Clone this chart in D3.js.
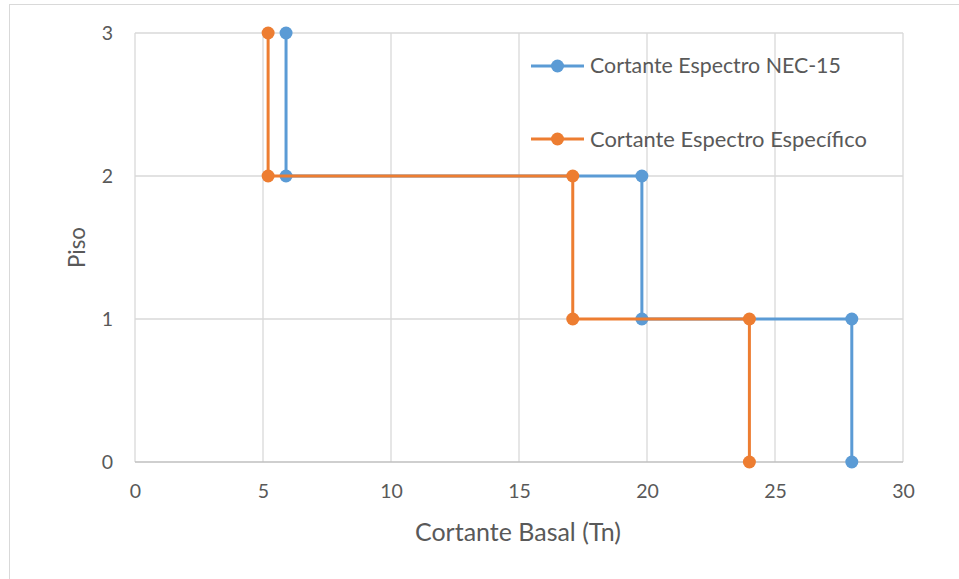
<!DOCTYPE html>
<html>
<head>
<meta charset="utf-8">
<script src="https://cdn.jsdelivr.net/npm/d3@7"></script>
<style>
  html, body { margin: 0; padding: 0; background: #fff; }
  svg { display: block; }
  text { font-family: Lato, "Open Sans", sans-serif; fill: #595959; }
</style>
</head>
<body>
<svg id="chart" width="959" height="579"></svg>
<script>
// Story shear, step profile: each point is (shear, floor level)
const seriesNames = ["Cortante Espectro NEC-15", "Cortante Espectro Específico"];
const colors = ["#5B9BD5", "#ED7D31"];
const pisoLevels = [3, 2, 2, 1, 1, 0];
const cortanteNEC = [5.9, 5.9, 19.8, 19.8, 28.0, 28.0];
const cortanteEspecifico = [5.2, 5.2, 17.1, 17.1, 24.0, 24.0];
const xTicks = [0, 5, 10, 15, 20, 25, 30];
const yTicks = [0, 1, 2, 3];
const xTitle = "Cortante Basal (Tn)";
const yTitle = "Piso";

const svg = d3.select("#chart");
const plot = { left: 135, right: 903, top: 33, bottom: 462 };

// scale a label's font so it spans the given width
function fitWidth(sel, width) {
  const node = sel.node();
  const base = parseFloat(sel.style("font-size"));
  const w = node.getComputedTextLength();
  sel.style("font-size", (base * width / w).toFixed(2) + "px");
  return sel;
}

// outer chart frame
svg.append("rect")
  .attr("x", 9.5).attr("y", 4.5)
  .attr("width", 1000).attr("height", 1000)
  .attr("fill", "none").attr("stroke", "#D9D9D9").attr("stroke-width", 1);

const x = d3.scaleLinear().domain([0, 30]).range([plot.left, plot.right]);
const y = d3.scaleLinear().domain([0, 3]).range([plot.bottom, plot.top]);

// gridlines
const grid = svg.append("g");
grid.selectAll("line.v").data(xTicks).join("line")
  .attr("x1", d => x(d)).attr("x2", d => x(d))
  .attr("y1", plot.top).attr("y2", plot.bottom)
  .attr("stroke", "#D9D9D9").attr("stroke-width", 1.3);
grid.selectAll("line.h").data(yTicks).join("line")
  .attr("x1", plot.left).attr("x2", plot.right)
  .attr("y1", d => y(d)).attr("y2", d => y(d))
  .attr("stroke", d => d === 0 ? "#BFBFBF" : "#D9D9D9").attr("stroke-width", 1.3);

// axes (labels only, lines drawn as grid)
const xAxis = svg.append("g").attr("transform", `translate(0,${plot.bottom})`)
  .call(d3.axisBottom(x).tickValues(xTicks).tickSize(0).tickPadding(22));
const yAxis = svg.append("g").attr("transform", `translate(${plot.left},0)`)
  .call(d3.axisLeft(y).tickValues(yTicks).tickFormat(d3.format("d")).tickSize(0).tickPadding(22));
[xAxis, yAxis].forEach(a => {
  a.select(".domain").remove();
  a.selectAll("text").style("font-size", "19.5px").attr("fill", "#595959");
});

// axis titles
fitWidth(svg.append("text")
  .attr("x", 518).attr("y", 541)
  .attr("text-anchor", "middle").style("font-size", "20px")
  .text(xTitle), 206);
fitWidth(svg.append("text")
  .attr("transform", `translate(85,${(plot.top + plot.bottom) / 2}) rotate(-90)`)
  .attr("text-anchor", "middle").style("font-size", "20px")
  .text(yTitle), 41);

// series
const seriesData = [cortanteNEC, cortanteEspecifico].map(vals =>
  vals.map((v, i) => ({ x: v, y: pisoLevels[i] })));
const line = d3.line().x(d => x(d.x)).y(d => y(d.y));

seriesData.forEach((pts, k) => {
  const g = svg.append("g");
  g.append("path").datum(pts).attr("d", line)
    .attr("fill", "none").attr("stroke", colors[k]).attr("stroke-width", 3);
  g.selectAll("circle").data(pts).join("circle")
    .attr("cx", d => x(d.x)).attr("cy", d => y(d.y)).attr("r", 6.5)
    .attr("fill", colors[k]);
});

// legend
const legend = svg.append("g");
const legendY = [66, 139];
seriesNames.forEach((name, k) => {
  const g = legend.append("g").attr("transform", `translate(531,${legendY[k]})`);
  g.append("line").attr("x1", 0).attr("x2", 53).attr("y1", 0).attr("y2", 0)
    .attr("stroke", colors[k]).attr("stroke-width", 3);
  g.append("circle").attr("cx", 26.5).attr("cy", 0).attr("r", 6.5).attr("fill", colors[k]);
  const t = g.append("text").attr("x", 59).attr("y", 0).attr("dy", "0.35em")
    .style("font-size", "20px").text(name);
  if (k === 0) fitWidth(t, 251);
  else fitWidth(t, 277);
});
</script>
</body>
</html>
